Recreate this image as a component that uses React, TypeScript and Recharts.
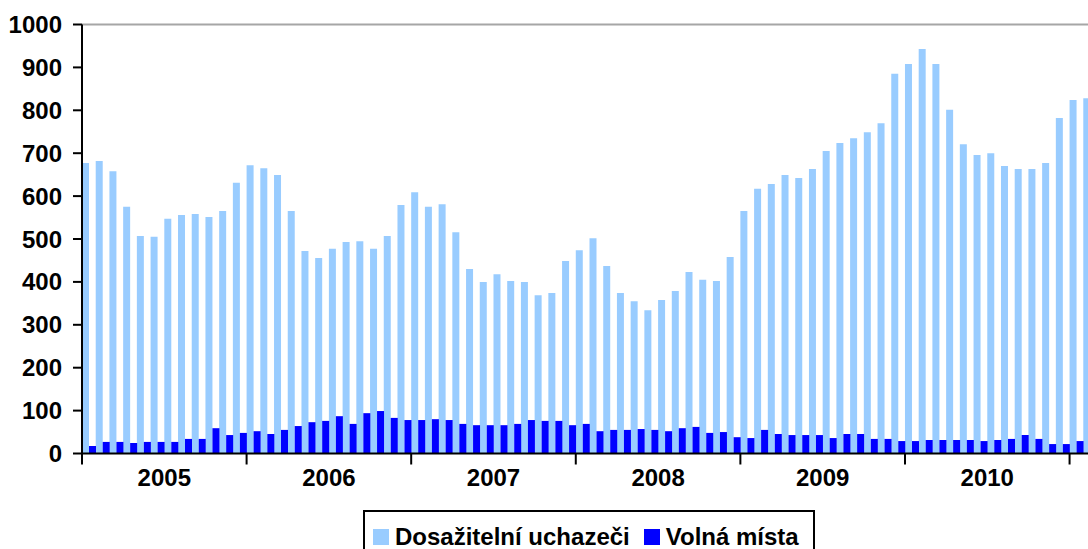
import React from 'react';
import { BarChart, Bar, XAxis, YAxis, ReferenceLine } from 'recharts';

// monthly values in thousands, Jan 2005 - Feb 2011
const years = ['2005', '2006', '2007', '2008', '2009', '2010'];
const monthNames = ['01', '02', '03', '04', '05', '06', '07', '08', '09', '10', '11', '12'];
const extraMonths = ['2011-01', '2011-02'];

const uchazeci = [
    677, 682, 658, 575, 507, 505, 547, 556, 558, 551, 565, 631,
    672, 665, 649, 565, 472, 456, 477, 493, 495, 477, 507, 579,
    609, 575, 581, 516, 430, 400, 418, 402, 400, 369, 374, 449,
    474, 502, 437, 374, 355, 334, 358, 379, 423, 405, 402, 458,
    565, 617, 628, 649, 642, 663, 705, 724, 735, 749, 770, 885,
    908, 943, 908, 801, 721, 696, 700, 670, 663, 663, 677, 782,
    824, 828,
];

const volnaMista = [
    17.5, 27, 27, 24.5, 27, 27, 27, 34, 34, 59, 43, 48,
    52, 45.5, 55, 64, 73, 76, 87, 69, 94, 99, 83, 78,
    78, 80, 78, 69, 66, 66, 66, 69, 78, 76, 76, 66,
    69, 52, 55, 55, 57, 55, 52, 59, 62, 48, 50, 38,
    36, 55, 45.5, 43, 43, 43, 36, 45.5, 45.5, 34, 34, 29,
    29, 31.5, 31.5, 31.5, 31.5, 29, 31.5, 34, 43, 34, 22, 22,
    29, 30,
];

const yTicks = [0, 100, 200, 300, 400, 500, 600, 700, 800, 900, 1000];

const series = [
    { key: 'uchazeci', name: 'Dosažitelní uchazeči', color: '#99ccff' },
    { key: 'mista', name: 'Volná místa', color: '#0000ff' },
];

const months = [...years.flatMap(y => monthNames.map(m => `${y}-${m}`)), ...extraMonths];

const data = months.map((m, i) => ({
    month: m,
    uchazeci: uchazeci[i],
    mista: volnaMista[i],
}));

const FONT = 'Arial, "Liberation Sans", sans-serif';

// tick marks between years, year label in the middle of its 12 months
function YearTick(props: any) {
    const { x, y, width, index } = props;
    const step = width / months.length;
    const parts: React.ReactNode[] = [];
    if (index % 12 === 0) {
        const bx = x - step / 2;
        parts.push(<line key="t" x1={bx} y1={y} x2={bx} y2={y + 11} stroke="#000" strokeWidth={2} />);
    }
    const year = years[Math.floor(index / 12)];
    if (index % 12 === 5 && year) {
        parts.push(
            <text key="l" x={x + step / 2} y={y + 32} textAnchor="middle" fontFamily={FONT} fontWeight="bold" fontSize={24} fill="#000">
                {year}
            </text>
        );
    }
    return <g>{parts}</g>;
}

export default function App() {
    return (
        <div style={{ position: 'fixed', left: 0, top: 0, width: 1088, height: 549, overflow: 'hidden', background: '#fff' }}>
            <BarChart
                width={1097}
                height={494}
                data={data}
                margin={{ top: 24.5, right: 0, left: 0, bottom: 0.5 }}
                barCategoryGap={0}
                barGap={0}
            >
                <XAxis
                    dataKey="month"
                    interval={0}
                    height={40}
                    tickSize={0}
                    tickMargin={0}
                    tickLine={false}
                    axisLine={{ stroke: '#000', strokeWidth: 2 }}
                    tick={<YearTick />}
                />
                <YAxis
                    domain={[0, 1000]}
                    ticks={yTicks}
                    interval={0}
                    width={82}
                    tickSize={9}
                    tickMargin={11}
                    axisLine={{ stroke: '#000', strokeWidth: 2 }}
                    tickLine={{ stroke: '#000', strokeWidth: 2 }}
                    tick={{ fill: '#000', fontSize: 24, fontWeight: 'bold', fontFamily: FONT }}
                />
                <ReferenceLine y={1000} stroke="#a6a6a6" strokeWidth={2} />
                {series.map(s => (
                    <Bar
                        key={s.key}
                        dataKey={s.key}
                        name={s.name}
                        fill={s.color}
                        isAnimationActive={false}
                    />
                ))}
            </BarChart>

            <div
                style={{
                    position: 'absolute',
                    left: 363,
                    top: 510,
                    width: 452,
                    height: 44,
                    boxSizing: 'border-box',
                    border: '2px solid #000',
                    padding: '9px 0 0 8px',
                    display: 'flex',
                    alignItems: 'center',
                    fontFamily: FONT,
                    fontWeight: 'bold',
                    fontSize: 24,
                    color: '#000',
                }}
            >
                {series.map((s, i) => (
                    <div key={s.key} style={{ display: 'flex', alignItems: 'center', marginLeft: i > 0 ? 14 : 0, height: 16 }}>
                        <span style={{ width: 16, height: 16, background: s.color, display: 'inline-block' }} />
                        <span style={{ marginLeft: 6, lineHeight: '24px', whiteSpace: 'nowrap' }}>{s.name}</span>
                    </div>
                ))}
            </div>
        </div>
    );
}
